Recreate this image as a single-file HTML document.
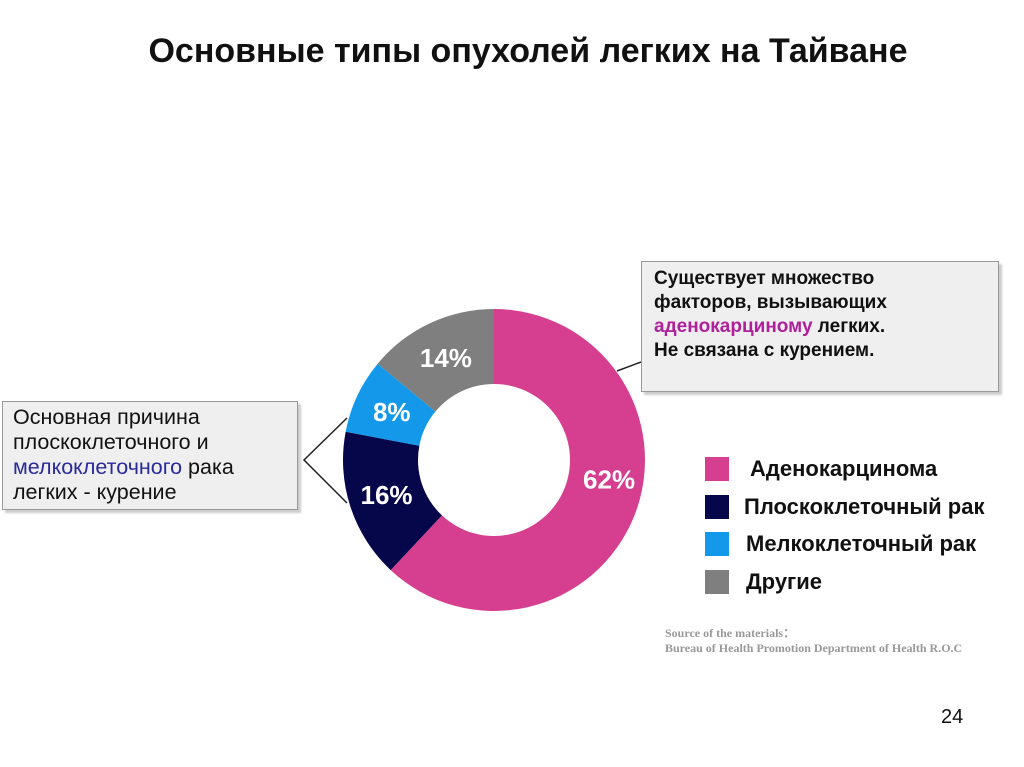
<!DOCTYPE html>
<html><head><meta charset="utf-8"><style>
body{margin:0;width:1024px;height:767px;background:#fff;position:relative;overflow:hidden;font-family:"Liberation Sans",Arial,sans-serif}
.abs{position:absolute}
.title{left:0;width:1056px;top:32px;text-align:center;font-size:34px;font-weight:bold;color:#111;white-space:nowrap}
.box{background:#efefef;border:1px solid #999;box-shadow:3px 3px 2px #ccc;color:#111;white-space:nowrap}
.leg{font-size:22px;font-weight:bold;color:#111;white-space:nowrap}
.sw{width:24px;height:24px}
</style></head><body>
<div class="abs title">Основные типы опухолей легких на Тайване</div>
<svg class="abs" style="left:0;top:0" width="1024" height="767" id="chart">
<g id="slices"></g>
<line x1="641" y1="362" x2="617" y2="371" stroke="#222" stroke-width="1.5"/>
<polyline points="347,418 304,460 347,503" fill="none" stroke="#222" stroke-width="1.5"/>
</svg>
<div class="abs box" style="left:641px;top:261px;width:344px;height:124px;padding:5px 0 0 12px;font-weight:bold;font-size:19px;line-height:24px">Существует множество<br>факторов, вызывающих<br><span style="color:#b0209c">аденокарциному</span> легких.<br>Не связана с курением.</div>
<div class="abs box" style="left:2px;top:401px;width:284px;height:104px;padding:3px 0 0 10px;font-size:21.5px;line-height:25px">Основная причина<br>плоскоклеточного и<br><span style="color:#2a2a9a">мелкоклеточного</span> рака<br>легких - курение</div>
<div id="legend"></div>
<div class="abs" style="left:665px;top:626px;font-family:'Liberation Serif',serif;font-size:12px;font-weight:bold;color:#999;line-height:15px;white-space:nowrap">Source of the materials：<br>Bureau of Health Promotion Department of Health R.O.C</div>
<div class="abs" style="left:941px;top:706px;font-size:20px;color:#111">24</div>
<script>
const categories=["Аденокарцинома","Плоскоклеточный рак","Мелкоклеточный рак","Другие"];
const values=[62,16,8,14];
const colors=["#d63f8f","#06064a","#1499ea","#7f7f7f"];
const cx=494,cy=460,R=151,r=76,LR=113;
const ns="http://www.w3.org/2000/svg";
const g=document.getElementById('slices');
const total=values.reduce((a,b)=>a+b,0);
function pt(a,rad){return [cx+rad*Math.sin(a),cy-rad*Math.cos(a)];}
let acc=0;
values.forEach((v,i)=>{
 const a0=acc/total*2*Math.PI;acc+=v;const a1=acc/total*2*Math.PI;
 const large=(a1-a0)>Math.PI?1:0;
 const p0=pt(a0,R),p1=pt(a1,R),q1=pt(a1,r),q0=pt(a0,r);
 const p=document.createElementNS(ns,'path');
 p.setAttribute('d',`M${p0}A${R},${R} 0 ${large} 1 ${p1}L${q1}A${r},${r} 0 ${large} 0 ${q0}Z`);
 p.setAttribute('fill',colors[i]);
 
 
 g.appendChild(p);
 const m=(a0+a1)/2;const lp=pt(m,LR);
 const t=document.createElementNS(ns,'text');
 t.setAttribute('x',lp[0]+(i==0?10:0));t.setAttribute('y',lp[1]+9+(i==0?-22:0));
 t.setAttribute('text-anchor','middle');t.setAttribute('fill','#fff');
 t.setAttribute('font-size','26');t.setAttribute('font-weight','bold');
 t.setAttribute('font-family','Liberation Sans, sans-serif');
 t.textContent=v+'%';
 
 
 g.appendChild(t);
});
const lg=document.getElementById('legend');
const ys=[457,495,532,570];
categories.forEach((c,i)=>{
 const s=document.createElement('div');
 s.className='abs sw';s.style.left='705px';s.style.top=ys[i]+'px';s.style.background=colors[i];
 
 
 lg.appendChild(s);
 const t=document.createElement('div');
 t.className='abs leg';t.style.left=(i==0?750:(i==1?744:746))+'px';t.style.top=(ys[i]-1)+'px';t.textContent=c;
 
 
 lg.appendChild(t);
});
</script>
</body></html>
